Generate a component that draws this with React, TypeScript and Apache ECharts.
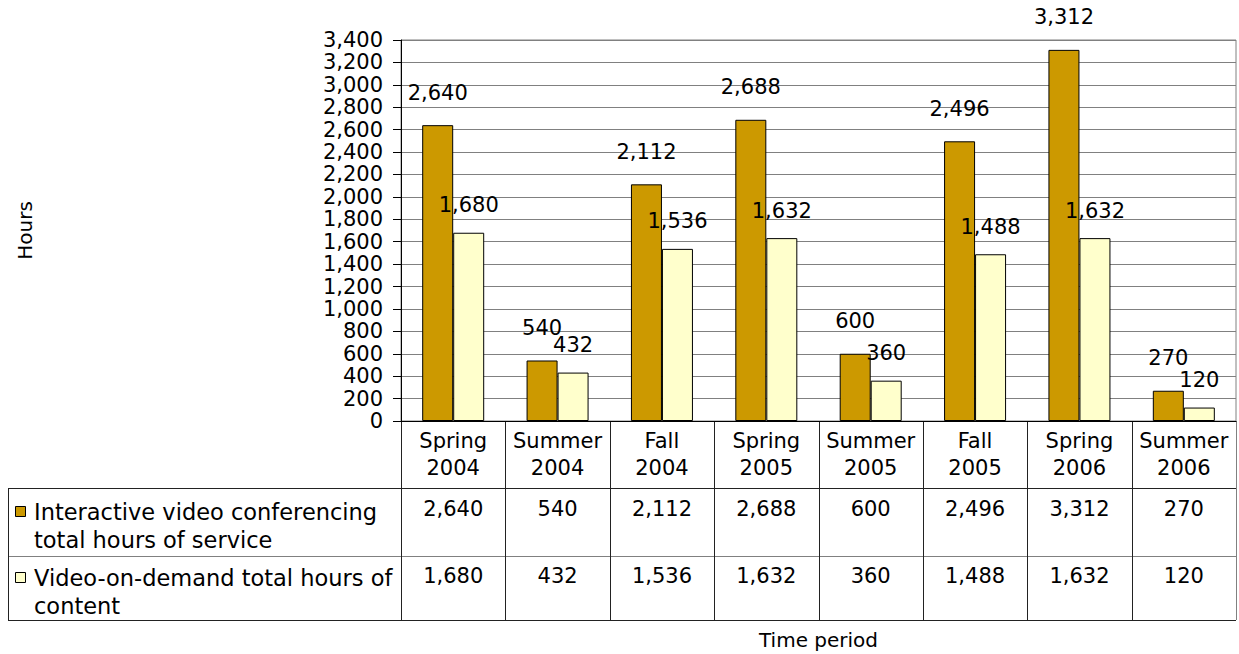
import React, { useEffect, useRef } from "react";
import * as echarts from "echarts";

const categories = ["Spring\n2004", "Summer\n2004", "Fall\n2004", "Spring\n2005", "Summer\n2005", "Fall\n2005", "Spring\n2006", "Summer\n2006"];
const seriesNames = ["Interactive video conferencing\ntotal hours of service", "Video-on-demand total hours of\ncontent"];
const conferencing = [2640, 540, 2112, 2688, 600, 2496, 3312, 270];
const onDemand = [1680, 432, 1536, 1632, 360, 1488, 1632, 120];
const colors = ["#CC9900", "#FFFFCC"];

const FONT = "DejaVu Sans";
const fmt = (v: number) => v.toLocaleString("en-US");

export default function App() {
  const ref = useRef<HTMLDivElement>(null);
  useEffect(() => {
    if (!ref.current) return;
    const chart = echarts.init(ref.current, null, { renderer: "svg" });
    const W = 1239, H = 654;
    const plotL = 401, plotR = 1236, plotT = 40, plotB = 421;
    const row1 = 488, row2 = 556, tableB = 620, tableL = 8;
    const colW = (plotR - plotL) / categories.length;
    const values = [conferencing, onDemand];

    const graphic: any[] = [];
    const line = (x1: number, y1: number, x2: number, y2: number, stroke = "#222") =>
      graphic.push({ type: "line", shape: { x1, y1, x2, y2 }, style: { stroke, lineWidth: 1 }, silent: true });
    line(tableL, row1 + 0.5, plotR, row1 + 0.5);
    line(tableL, row2 + 0.5, plotR, row2 + 0.5, "#808080");
    line(tableL, tableB + 0.5, plotR, tableB + 0.5);
    line(tableL + 0.5, row1, tableL + 0.5, tableB);
    for (let i = 0; i <= categories.length; i++) {
      const x = Math.round(plotL + i * colW) + 0.5;
      line(x, plotB, x, tableB, i === categories.length ? "#808080" : "#222");
    }
    values.forEach((arr, r) => {
      arr.forEach((v, i) => {
        graphic.push({
          type: "text",
          x: plotL + (i + 0.5) * colW,
          y: r === 0 ? 509 : 576,
          style: { text: fmt(v), font: `21px '${FONT}'`, fill: "#000", align: "center", verticalAlign: "middle" },
          silent: true,
        });
      });
      graphic.push({
        type: "rect",
        shape: { x: 15.5, y: (r === 0 ? 506 : 572) + 0.5, width: 10, height: 10 },
        style: { fill: colors[r], stroke: "#000", lineWidth: 1 },
        silent: true,
      });
      graphic.push({
        type: "text",
        x: 34,
        y: r === 0 ? 498 : 564,
        style: { text: seriesNames[r], font: `22.5px '${FONT}'`, fill: "#000", lineHeight: 28, align: "left", verticalAlign: "top" },
        silent: true,
      });
    });

    const option: any = {
      animation: false,
      textStyle: { fontFamily: FONT },
      grid: {
        left: plotL, right: W - plotR, top: plotT, bottom: H - plotB,
        show: true, borderColor: "#808080", borderWidth: 1,
        containLabel: false, outerBoundsMode: "none",
      },
      xAxis: {
        type: "category",
        data: categories,
        name: "Time period",
        nameLocation: "middle",
        nameGap: 209,
        nameTextStyle: { fontSize: 20, color: "#000", fontFamily: FONT },
        axisLine: { lineStyle: { color: "#000" } },
        axisTick: { show: false },
        axisLabel: { fontSize: 21, color: "#000", lineHeight: 27, margin: 6, interval: 0, fontFamily: FONT },
      },
      yAxis: {
        type: "value",
        min: 0,
        max: 3400,
        interval: 200,
        name: "Hours",
        nameLocation: "middle",
        nameGap: 366,
        nameRotate: 90,
        nameTextStyle: { fontSize: 20, color: "#000", fontFamily: FONT },
        axisLine: { show: true, lineStyle: { color: "#000" } },
        axisTick: { show: true, inside: false, length: 8, lineStyle: { color: "#000" } },
        axisLabel: { fontSize: 21, color: "#000", margin: 18, formatter: (v: number) => fmt(v), fontFamily: FONT },
        splitLine: { show: true, lineStyle: { color: "#808080", width: 1 } },
      },
      series: values.map((arr, r) => ({
        type: "bar",
        name: seriesNames[r],
        data: arr,
        barWidth: 31,
        barGap: "0%",
        itemStyle: { color: colors[r], borderColor: "#000", borderWidth: 1 },
        label: {
          show: true, position: "top", distance: r === 0 ? 22 : 17, offset: [2, 0],
          fontSize: 21, color: "#000", fontFamily: FONT, formatter: (p: any) => fmt(p.value),
        },
        labelLayout: { hideOverlap: false },
      })),
      graphic,
    };
    chart.setOption(option);
    return () => chart.dispose();
  }, []);
  return <div ref={ref} style={{ position: "absolute", left: 0, top: 0, width: 1239, height: 654 }} />;
}
